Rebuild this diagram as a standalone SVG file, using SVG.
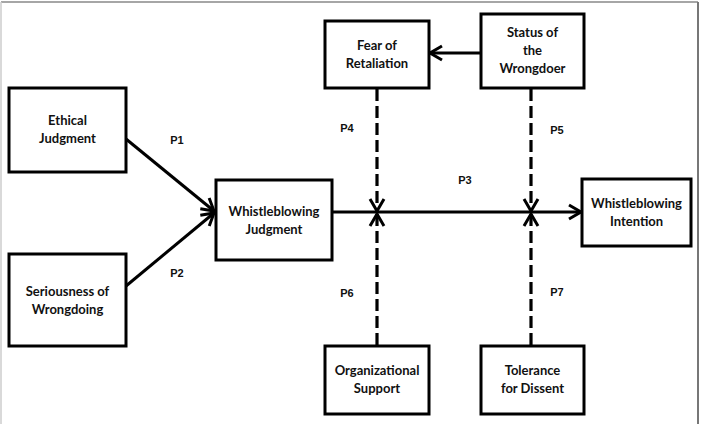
<svg xmlns="http://www.w3.org/2000/svg" width="701" height="424" viewBox="0 0 701 424">
<style>
.box{fill:#fff;stroke:#000;stroke-width:3}
.t{font-family:Lato,"Open Sans",sans-serif;font-weight:bold;font-size:13px;fill:#111;text-anchor:middle}
.p{font-family:"Liberation Sans",Arial,sans-serif;font-weight:bold;font-size:11px;fill:#111;text-anchor:middle}
.ln{stroke:#000;stroke-width:3;fill:none}
.dash{stroke:#000;stroke-width:3.2;fill:none;stroke-dasharray:12 5}
</style>
<defs>
<marker id="ah" markerUnits="userSpaceOnUse" markerWidth="16" markerHeight="18" viewBox="0 0 16 18" refX="14" refY="9" orient="auto" overflow="visible">
<path d="M2,2 L14,9 L2,16" fill="none" stroke="#000" stroke-width="3" stroke-linejoin="miter"/>
</marker>
</defs>
<rect width="701" height="424" fill="#fff"/>
<line x1="1" y1="2" x2="698" y2="2" stroke="#888" stroke-width="1.5"/>
<line x1="698" y1="2" x2="698" y2="424" stroke="#777" stroke-width="2"/>
<line x1="1" y1="2" x2="1" y2="424" stroke="#ccc" stroke-width="1.5"/>

<g id="connectors">
<line class="ln" x1="126" y1="139" x2="214" y2="211" marker-end="url(#ah)"/>
<line class="ln" x1="126" y1="286" x2="214" y2="213" marker-end="url(#ah)"/>
<line class="ln" x1="332" y1="212" x2="581" y2="212" marker-end="url(#ah)"/>
<line class="ln" x1="481" y1="53" x2="430" y2="53" marker-end="url(#ah)"/>
<line class="dash" x1="377" y1="89" x2="377" y2="211" marker-end="url(#ah)"/>
<line class="dash" x1="377" y1="345" x2="377" y2="214" marker-end="url(#ah)"/>
<line class="dash" x1="531" y1="89" x2="531" y2="211" marker-end="url(#ah)"/>
<line class="dash" x1="531" y1="345" x2="531" y2="214" marker-end="url(#ah)"/>
</g>

<g id="ethical">
<rect class="box" x="9" y="88" width="117" height="84"/>
<text class="t" x="67.5" y="125">Ethical</text>
<text class="t" x="67.5" y="143">Judgment</text>
</g>
<g id="seriousness">
<rect class="box" x="9" y="254" width="117" height="92"/>
<text class="t" x="67.5" y="296">Seriousness of</text>
<text class="t" x="67.5" y="314">Wrongdoing</text>
</g>
<g id="wbjudgment">
<rect class="box" x="216" y="180" width="116" height="80"/>
<text class="t" x="274" y="216">Whistleblowing</text>
<text class="t" x="274" y="234">Judgment</text>
</g>
<g id="fear">
<rect class="box" x="325" y="21" width="104" height="67"/>
<text class="t" x="377" y="50">Fear of</text>
<text class="t" x="377" y="68">Retaliation</text>
</g>
<g id="status">
<rect class="box" x="481" y="14" width="103" height="74"/>
<text class="t" x="532.5" y="37">Status of</text>
<text class="t" x="532.5" y="55">the</text>
<text class="t" x="532.5" y="73">Wrongdoer</text>
</g>
<g id="wbintention">
<rect class="box" x="582" y="179" width="109" height="67"/>
<text class="t" x="636.5" y="208">Whistleblowing</text>
<text class="t" x="636.5" y="226">Intention</text>
</g>
<g id="orgsupport">
<rect class="box" x="325" y="346" width="104" height="68"/>
<text class="t" x="377" y="375">Organizational</text>
<text class="t" x="377" y="393">Support</text>
</g>
<g id="tolerance">
<rect class="box" x="481" y="346" width="103" height="68"/>
<text class="t" x="532.5" y="375">Tolerance</text>
<text class="t" x="532.5" y="393">for Dissent</text>
</g>

<g id="labels">
<text class="p" x="177" y="144">P1</text>
<text class="p" x="177" y="277">P2</text>
<text class="p" x="465" y="184">P3</text>
<text class="p" x="347" y="132">P4</text>
<text class="p" x="557" y="134">P5</text>
<text class="p" x="347" y="297">P6</text>
<text class="p" x="557" y="296">P7</text>
</g>
</svg>
